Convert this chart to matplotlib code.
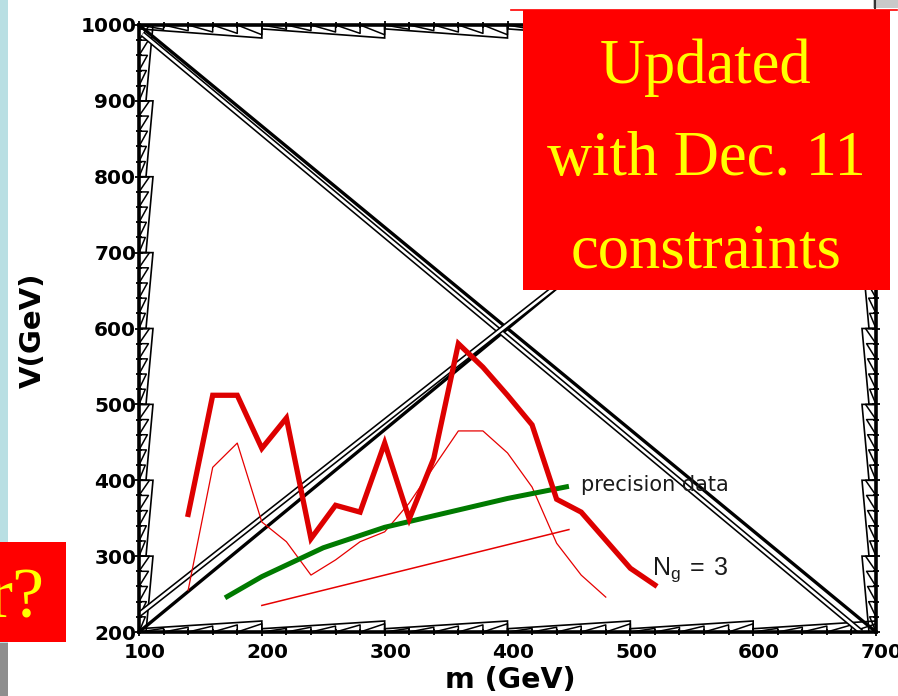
import matplotlib
matplotlib.use("Agg")
import matplotlib.pyplot as plt
import matplotlib.transforms as mtransforms
from matplotlib.patches import Rectangle
from matplotlib.lines import Line2D
import numpy as np

# N_g = 3 limit (thick) and its companion curve (thin)
m_ng3 = [140, 160, 180, 200, 220, 240, 260, 280, 300, 320, 340, 360, 380, 400, 420, 440, 460, 500, 520]
v_ng3 = [355, 512, 512, 442, 482, 323, 367, 358, 449, 349, 429, 580, 549, 512, 473, 375, 358, 284, 262]

m_thin = [140, 160, 180, 200, 220, 240, 260, 280, 300, 320, 360, 380, 400, 420, 440, 460, 480]
v_thin = [255, 417, 449, 345, 319, 275, 295, 319, 332, 370, 465, 465, 436, 391, 317, 275, 246]

# lower straight red line
m_low = [200, 450]
v_low = [235, 335]

# precision data bound
m_prec = [170, 200, 250, 300, 350, 400, 450]
v_prec = [245, 273, 311, 338, 357, 376, 392]

# black boundary lines (end points)
desc_thick = ([100, 700], [1000, 200])
desc_double = ([103, 688], [988, 200])
asc_thick = ([100, 700], [200, 1000])
asc_double = ([100, 700], [223, 987])

xticks = [100, 200, 300, 400, 500, 600, 700]
yticks = [200, 300, 400, 500, 600, 700, 800, 900, 1000]

W, H = 898, 696
fig = plt.figure(figsize=(W / 100, H / 100), dpi=100)
fig.patch.set_facecolor("white")


def px(x, y):
    return x / W, 1 - y / H


ax = fig.add_axes([139 / W, (H - 632) / H, 737 / W, 607 / H])
ax.set_xlim(100, 700)
ax.set_ylim(200, 1000)

# px -> data scale
sx = 737 / 600.0
sy = 607 / 800.0


def teeth(edge, depth_px, d0=0.3):
    """Wedge/sawtooth pattern drawn along one frame edge."""
    if edge in ("bottom", "top"):
        starts = range(100, 700, 100)
        D = depth_px / sy
    else:
        starts = range(200, 1000, 100)
        D = depth_px / sx

    def pt(s, d):
        if edge == "bottom":
            return s, 200 + d
        if edge == "top":
            return s, 1000 - d
        if edge == "left":
            return 100 + d, s
        return 700 - d, s

    for a in starts:
        env = lambda s: D * (d0 + (1 - d0) * (s - a) / 100.0)
        pts = [pt(a, 0), pt(a, env(a)), pt(a + 100, env(a + 100)), pt(a + 100, 0)]
        xs, ys = zip(*pts)
        ax.plot(xs, ys, color="black", lw=1.2, solid_joinstyle="miter")
        for k in range(5):
            s0 = a + 20 * k
            s1 = s0 + 20
            zz = [pt(s0, 0), pt(s1, env(s1) * 0.75), pt(s1, 0)]
            xs, ys = zip(*zz)
            ax.plot(xs, ys, color="black", lw=1.1)


teeth("bottom", 11)
teeth("top", 13)
teeth("left", 14, d0=0.5)
teeth("right", 14, d0=0.5)

# boundary lines: plain thick ones and "double" ones (black with white core)
for xs, ys in (desc_thick, asc_thick):
    ax.plot(xs, ys, color="black", lw=2.4, solid_capstyle="butt")
for xs, ys in (desc_double, asc_double):
    ax.plot(xs, ys, color="black", lw=4.2, solid_capstyle="butt")
    ax.plot(xs, ys, color="white", lw=1.9, solid_capstyle="butt")

ax.plot(m_thin, v_thin, color="#e60000", lw=0.9)
ax.plot(m_low, v_low, color="#e60000", lw=1.1)
ax.plot(m_prec, v_prec, color="#007a00", lw=3.6, solid_capstyle="butt")
ax.plot(m_ng3, v_ng3, color="#dd0000", lw=3.8, solid_joinstyle="miter")

ax.text(460, 394, "precision data", fontsize=15, family="DejaVu Sans",
        va="center", ha="left", color="#1a1a1a")
ax.text(518, 282, r"$\mathregular{N_g\,=\,3}$", fontsize=18, family="Liberation Sans",
        va="center", ha="left", color="#1a1a1a")

for s in ax.spines.values():
    s.set_linewidth(2.6)
ax.set_xticks(xticks)
ax.set_yticks(yticks)
ax.set_xticks(np.arange(100, 701, 20), minor=True)
ax.set_yticks(np.arange(200, 1001, 20), minor=True)
ax.tick_params(which="both", direction="inout", width=1.3, top=True, right=True)
ax.tick_params(which="major", length=6)
ax.tick_params(which="minor", length=4)
ax.tick_params(axis="x", pad=5)
ax.tick_params(axis="y", pad=-1)
ax.set_xticklabels([str(t) for t in xticks], fontsize=14.5, fontweight="bold")
ax.set_yticklabels([str(t) for t in yticks], fontsize=14.5, fontweight="bold")
shift = mtransforms.ScaledTranslation(6 / 100, 0, fig.dpi_scale_trans)
for lbl in ax.get_xticklabels():
    lbl.set_transform(lbl.get_transform() + shift)

fig.text(*px(510, 680), "m (GeV)", fontsize=20.5, fontweight="bold", ha="center", va="center")
fig.text(*px(33, 330), "V(GeV)", fontsize=21, fontweight="bold", ha="center", va="center",
         rotation=90)

# slide decorations around the plot
fig.add_artist(Rectangle(px(0, 643), 8 / W, 643 / H, transform=fig.transFigure,
                         facecolor="#b9dfe3", edgecolor="none", zorder=4))
fig.add_artist(Rectangle(px(0, 696), 8 / W, 53 / H, transform=fig.transFigure,
                         facecolor="#8e8e8e", edgecolor="none", zorder=4))
fig.add_artist(Rectangle(px(873, 8), 25 / W, 8 / H, transform=fig.transFigure,
                         facecolor="#c9c9c9", edgecolor="none", zorder=4))
fig.add_artist(Line2D([875 / W, 875 / W], [1 - 8 / H, 1], transform=fig.transFigure,
                      color="#333333", lw=1.5, zorder=5))

fig.add_artist(Rectangle(px(523, 290), 367 / W, 280 / H, transform=fig.transFigure,
                         facecolor="#ff0000", edgecolor="none", zorder=6))
fig.add_artist(Line2D([511 / W, 897 / W], [1 - 10 / H, 1 - 10 / H], transform=fig.transFigure,
                      color="#ff0000", lw=1.2, zorder=6))
for txt, yb in (("Updated", 83), ("with Dec. 11", 175), ("constraints", 267)):
    fig.text(*px(706, yb), txt, fontsize=45, family="Liberation Serif", color="#ffff00",
             ha="center", va="baseline", zorder=7)

fig.add_artist(Rectangle(px(0, 642), 66 / W, 100 / H, transform=fig.transFigure,
                         facecolor="#ff0000", edgecolor="none", zorder=6))
fig.text(*px(45, 617), "r?", fontsize=52, family="Liberation Serif", color="#ffff00",
         ha="right", va="baseline", zorder=7)

fig.savefig("out.png", dpi=100)
